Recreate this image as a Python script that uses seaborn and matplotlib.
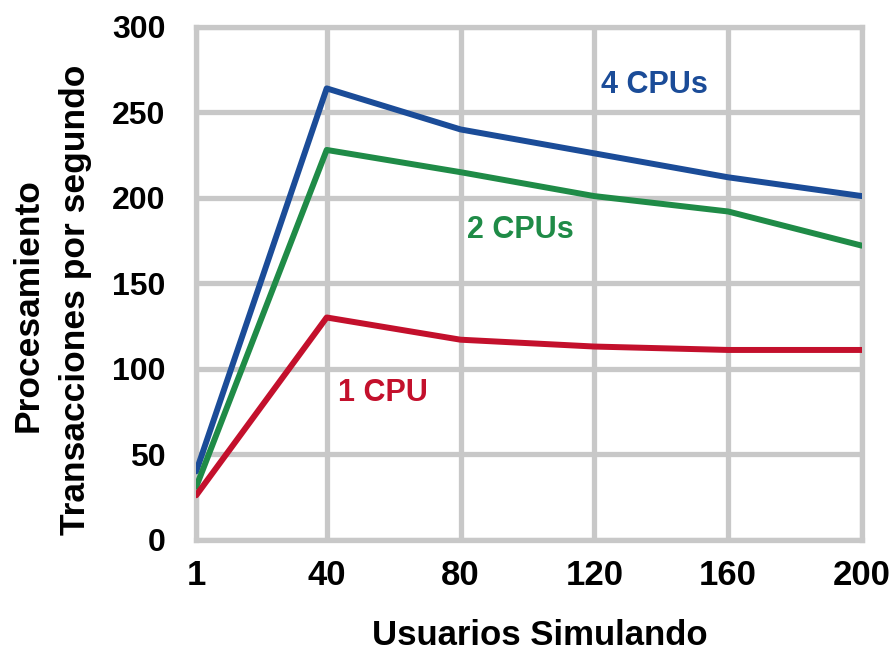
import pandas as pd
import seaborn as sns
import matplotlib.pyplot as plt

# data
usuarios = [1, 40, 80, 120, 160, 200]
cpu4 = [40, 264, 240, 226, 212, 201]
cpu2 = [31, 228, 215, 201, 192, 172]
cpu1 = [26, 130, 117, 113, 111, 111]
series_names = ["4 CPUs", "2 CPUs", "1 CPU"]
x_ticks = [1, 40, 80, 120, 160, 200]
y_ticks = [0, 50, 100, 150, 200, 250, 300]

colors = {"4 CPUs": "#1b4c98", "2 CPUs": "#1f8b47", "1 CPU": "#c3102c"}

rows = []
for name, vals in zip(series_names, [cpu4, cpu2, cpu1]):
    for x, y in zip(usuarios, vals):
        rows.append({"usuarios": x, "tps": y, "serie": name})
df = pd.DataFrame(rows)

sns.set_theme(style="white")
plt.rcParams["font.family"] = ["Liberation Sans Narrow", "Liberation Sans", "DejaVu Sans"]
plt.rcParams["text.color"] = "black"
plt.rcParams["xtick.color"] = "black"
plt.rcParams["ytick.color"] = "black"

fig = plt.figure(figsize=(8.96, 6.55), dpi=100)
ax = fig.add_axes([0.219, 0.176, 0.743, 0.783])

sns.lineplot(data=df, x="usuarios", y="tps", hue="serie", palette=colors,
             linewidth=4.3, legend=False, ax=ax, zorder=3)

ax.set_xlim(1, 200)
ax.set_ylim(0, 300)
ax.set_xticks(x_ticks)
ax.set_yticks(y_ticks)
ax.grid(True, color="#c8c8c8", linewidth=3.8)
ax.set_axisbelow(True)
for s in ax.spines.values():
    s.set_color("#c8c8c8")
    s.set_linewidth(3.8)
ax.tick_params(axis="both", length=0, colors="black")
ax.tick_params(axis="x", pad=14)
ax.tick_params(axis="y", pad=22)
for lab in ax.get_xticklabels():
    lab.set_fontsize(25)
    lab.set_fontweight("bold")
for lab in ax.get_yticklabels():
    lab.set_fontsize(23)
    lab.set_fontweight("bold")
ax.set_xlabel("")
ax.set_ylabel("")

# series labels
ax.text(122, 266, "4 CPUs", color=colors["4 CPUs"], fontsize=22,
        fontweight="bold", va="center")
ax.text(82, 181, "2 CPUs", color=colors["2 CPUs"], fontsize=22,
        fontweight="bold", va="center")
ax.text(43.5, 86, "1 CPU", color=colors["1 CPU"], fontsize=22,
        fontweight="bold", va="center")

fig.text(0.603, 0.03, "Usuarios Simulando", fontsize=25, fontweight="bold",
         ha="center", va="center")
fig.text(0.031, 0.535, "Procesamiento", fontsize=25.5, fontweight="bold",
         ha="center", va="center", rotation=90)
fig.text(0.084, 0.542, "Transacciones por segundo", fontsize=25.5,
         fontweight="bold", ha="center", va="center", rotation=90)

fig.savefig("out.png", dpi=100)
